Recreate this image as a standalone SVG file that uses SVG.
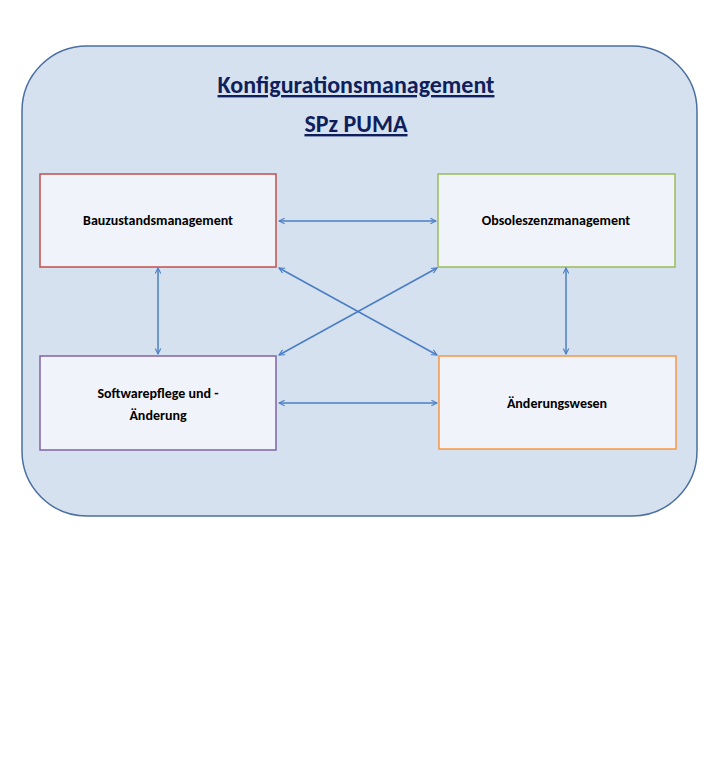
<svg xmlns="http://www.w3.org/2000/svg" width="720" height="775" viewBox="0 0 720 775">
<style>
.box{fill:#f0f3f9;stroke-width:1.5}
.lbl{font-family:Calibri,Carlito,"Liberation Sans Narrow","Liberation Sans",sans-serif;font-weight:bold;font-size:14px;fill:#000;text-anchor:middle}
.ttl{font-family:Calibri,Carlito,"Liberation Sans",sans-serif;font-weight:bold;font-size:24px;fill:#0f1f5c;text-anchor:middle;text-decoration:underline}
.c{stroke:#4a7ec4;stroke-width:1.5;fill:none;marker-start:url(#a);marker-end:url(#a)}
</style>
<defs>
<marker id="a" viewBox="0 0 10 10" refX="9" refY="5" markerWidth="7" markerHeight="7" orient="auto-start-reverse" markerUnits="userSpaceOnUse">
<path d="M1,1 L9,5 L1,9" fill="none" stroke="#4a7ec4" stroke-width="1.5"/>
</marker>
</defs>
<rect width="720" height="775" fill="#fff"/>
<rect id="bg" x="22" y="46" width="675" height="470" rx="65" fill="#d6e1ef" stroke="#4a6fa0" stroke-width="1.5"/>
<text class="ttl" x="356" y="93">Konfigurationsmanagement</text>
<text class="ttl" x="356" y="132">SPz PUMA</text>
<g id="n1"><rect class="box" x="40" y="174" width="236" height="93" stroke="#c0504d"/><text class="lbl" x="158" y="225">Bauzustandsmanagement</text></g>
<g id="n2"><rect class="box" x="438" y="174" width="237" height="93" stroke="#9bbb59"/><text class="lbl" x="556" y="225">Obsoleszenzmanagement</text></g>
<g id="n3"><rect class="box" x="40" y="356" width="236" height="94" stroke="#8064a2"/><text class="lbl" x="158" y="398">Softwarepflege und  -</text><text class="lbl" x="158" y="420">Änderung</text></g>
<g id="n4"><rect class="box" x="439" y="356" width="237" height="93" stroke="#f79646"/><text class="lbl" x="557" y="408">Änderungswesen</text></g>
<g id="connectors">
<line class="c" x1="279" y1="221" x2="436" y2="221"/>
<line class="c" x1="279" y1="403" x2="437" y2="403"/>
<line class="c" x1="158" y1="268" x2="158" y2="354"/>
<line class="c" x1="566" y1="268" x2="566" y2="354"/>
<line class="c" x1="279" y1="268" x2="437" y2="355"/>
<line class="c" x1="437" y1="268" x2="279" y2="355"/>
</g>
</svg>
